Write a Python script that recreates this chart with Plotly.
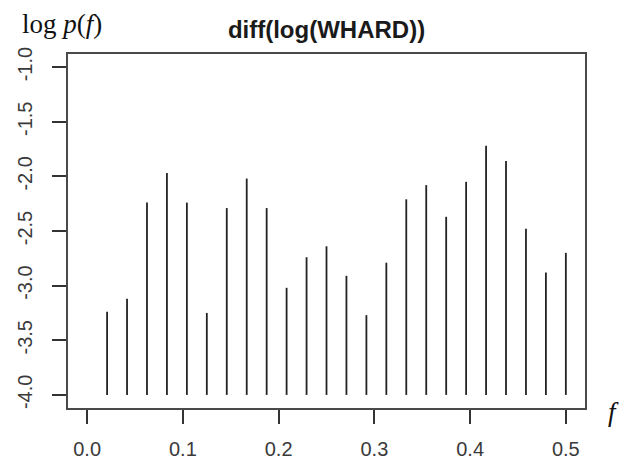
import plotly.graph_objects as go

# Fourier frequencies (k/48) and log periodogram values
freqs = [0.02083, 0.04167, 0.0625, 0.08333, 0.10417, 0.125, 0.14583, 0.16667,
         0.1875, 0.20833, 0.22917, 0.25, 0.27083, 0.29167, 0.3125, 0.33333,
         0.35417, 0.375, 0.39583, 0.41667, 0.4375, 0.45833, 0.47917, 0.5]
log_p = [-3.24, -3.12, -2.24, -1.97, -2.24, -3.25, -2.29, -2.02,
         -2.29, -3.02, -2.74, -2.64, -2.91, -3.27, -2.79, -2.21,
         -2.08, -2.37, -2.05, -1.72, -1.86, -2.48, -2.88, -2.70]
base = -4.0
title = "diff(log(WHARD))"
x_ticks = [0.0, 0.1, 0.2, 0.3, 0.4, 0.5]
x_tick_text = ["0.0", "0.1", "0.2", "0.3", "0.4", "0.5"]
y_ticks = [-4.0, -3.5, -3.0, -2.5, -2.0, -1.5, -1.0]
y_tick_text = ["-4.0", "-3.5", "-3.0", "-2.5", "-2.0", "-1.5", "-1.0"]

xs, ys = [], []
for f, v in zip(freqs, log_p):
    xs += [f, f, None]
    ys += [base, v, None]

fig = go.Figure()
fig.add_trace(go.Scatter(x=xs, y=ys, mode="lines",
                         line=dict(color="#222222", width=1.8),
                         showlegend=False, hoverinfo="skip"))

W, H = 621, 461
L, R, T, B = 68, 36, 54, 53

axis_common = dict(showgrid=False, zeroline=False, showline=True, mirror=True,
                   linecolor="#4a4a4a", linewidth=1.5, ticks="outside",
                   ticklen=14, tickwidth=1.5, tickcolor="#333333", automargin=False,
                   tickfont=dict(family="Liberation Sans, Arial", size=20, color="#3a3a3a"))

fig.update_layout(
    width=W, height=H,
    margin=dict(l=L, r=R, t=T, b=B, autoexpand=False),
    paper_bgcolor="white", plot_bgcolor="white",
    xaxis=dict(range=[-0.02, 0.52], tickvals=x_ticks, ticktext=x_tick_text,
               ticklabelstandoff=8, **axis_common),
    yaxis=dict(range=[-4.12, -0.88], tickvals=y_ticks, ticktext=y_tick_text,
               tickangle=-90, ticklabelstandoff=12, **axis_common),
    title=dict(text="<b>" + title + "</b>", x=(L + (W - L - R) / 2) / W, xanchor="center",
               y=1 - 30 / H, yanchor="middle",
               font=dict(family="Liberation Sans, Arial", size=24, color="#1a1a1a")),
)

pw, ph = W - L - R, H - T - B
fig.add_annotation(text="log <i>p</i>(<i>f</i>)", xref="paper", yref="paper",
                   x=(20 - L) / pw, y=(408 - 24) / ph,
                   xanchor="left", yanchor="middle", showarrow=False,
                   font=dict(family="Liberation Serif, Times New Roman", size=27, color="#111111"))
fig.add_annotation(text="<i>f</i>", xref="paper", yref="paper",
                   x=(613 - L) / pw, y=(408 - 412) / ph,
                   xanchor="center", yanchor="middle", showarrow=False,
                   font=dict(family="Liberation Serif, Times New Roman", size=27, color="#111111"))

fig.write_html("out.html")
